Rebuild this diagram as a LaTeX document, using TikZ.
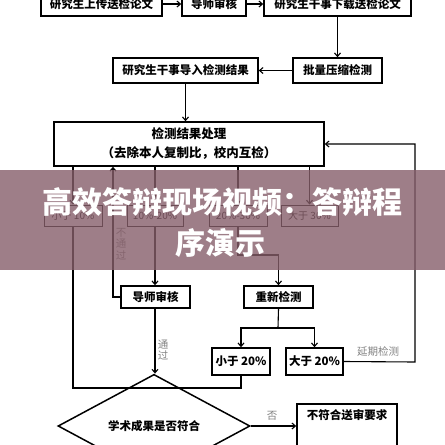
\documentclass[tikz,border=0pt]{standalone}
\usepackage{fontspec}
\setmainfont{Noto Sans CJK SC}
\usetikzlibrary{arrows.meta,shapes.geometric,calc}
\definecolor{bannercol}{RGB}{134,94,106}
\definecolor{labgray}{RGB}{130,130,130}
\begin{document}
\begin{tikzpicture}[x=1pt,y=-1pt,
  box/.style={draw,line width=1.5pt,inner sep=0pt,align=center,font=\bfseries\fontsize{11.5}{13}\selectfont},
  thinbox/.style={draw,line width=1pt,inner sep=0pt,align=center,font=\fontsize{10}{12}\selectfont},
  conn/.style={line width=1.1pt},
  arr/.style={conn,-{Straight Barb[length=3.5pt,width=6pt]}},
  lab/.style={text=labgray,font=\fontsize{10.5}{11.5}\selectfont,inner sep=0pt,align=center},
  bantext/.style={text=white,font=\bfseries\fontsize{30}{32}\selectfont,inner sep=0pt}]
\useasboundingbox (0,0) rectangle (445,445);
\clip (0,0) rectangle (445,445);
% top row
\node[box,minimum width=121pt,minimum height=24pt] (up) at (101.5,4) {研究生上传送检论文};
\node[box,minimum width=64pt,minimum height=24pt] (tr1) at (214,4) {导师审核};
\node[box,minimum width=147pt,minimum height=24pt] (dl) at (337.5,4) {研究生干事下载送检论文};
\node[box,minimum width=89pt,minimum height=25pt] (bc) at (337.5,70.5) {批量压缩检测};
\node[box,minimum width=145pt,minimum height=25pt] (imp) at (185.5,70.5) {研究生干事导入检测结果};
\node[box,minimum width=270pt,minimum height=44pt,font=\bfseries\fontsize{12.5}{19}\selectfont] (proc) at (189,144) {检测结果处理\\（去除本人复制比，校内互检）};
% ratio row
\node[thinbox,minimum width=58pt,minimum height=21pt] (r1) at (73,215.5) {小于 10\%};
\node[thinbox,minimum width=56pt,minimum height=21pt] (r2) at (155,215.5) {10\%-20\%};
\node[thinbox,minimum width=58pt,minimum height=21pt] (r3) at (238,215.5) {20\%-30\%};
\node[thinbox,minimum width=57pt,minimum height=21pt] (r4) at (309.5,215.5) {大于 30\%};
% second level
\node[box,minimum width=69pt,minimum height=22pt] (tr2) at (155.5,297) {导师审核};
\node[box,minimum width=69pt,minimum height=22pt] (re) at (278.5,297) {重新检测};
\node[box,minimum width=58pt,minimum height=27pt] (s20) at (241,361.5) {小于 20\%};
\node[box,minimum width=57pt,minimum height=27pt] (b20) at (314.5,361.5) {大于 20\%};
\node[box,diamond,minimum width=192pt,minimum height=48pt] (dia) at (154,426) {学术成果是否符合};
\node[box,minimum width=100pt,text depth=50pt,inner ysep=6pt,anchor=north] (ns) at (347,403) {不符合送审要求};
% connectors
\draw[arr] (up) -- (tr1);
\draw[arr] (tr1) -- (dl);
\draw[arr] (dl) -- (bc);
\draw[arr] (bc) -- (imp);
\draw[arr] (imp.south) -- (imp.south |- proc.north);
\draw[arr] (r1.north |- proc.south) -- (r1.north);
\draw[arr] (r2.north |- proc.south) -- (r2.north);
\draw[arr] (r3.north |- proc.south) -- (r3.north);
\draw[arr] (r4.north |- proc.south) -- (r4.north);
\draw[arr] (r2.south) -- (tr2.north -| r2.south);
\coordinate (nf) at (113,297);
\draw[arr] (tr2.west) -- (nf) -- (nf |- proc.south);
\node[lab] (lnf) at (121,244) {不\\通\\过};
\coordinate (k1) at (238,255);
\draw[arr] (r3.south) -- (k1) -| (re.north);
\coordinate (sp) at (278,328);
\draw[conn] (re.south) -- (sp);
\draw[arr] (sp) -| (s20.north);
\draw[arr] (sp) -| (b20.north);
\coordinate (lp) at (241,388);
\draw[conn] (s20.south) -- (lp) -| (r1.south);
\draw[arr] (tr2.south -| r2.south) -- (dia.north -| r2.south);
\node[lab] (lpass) at (163,350) {通\\过};
\coordinate (dp) at (415,362);
\draw[arr] (b20.east) -- (dp) -- (dp |- proc.east) -- (proc.east);
\node[lab] (ldp) at (378,352) {延期检测};
\draw[arr] (dia.east) -- (dia.east -| ns.west);
\node[lab] (lno) at (272,416) {否};
% banner overlay
\fill[bannercol,opacity=0.8] (0,170) rectangle (445,270);
\node[bantext] (bt1) at (222.5,202) {高效答辩现场视频：答辩程};
\node[bantext] (bt2) at (220,243) {序演示};
\end{tikzpicture}
\end{document}
